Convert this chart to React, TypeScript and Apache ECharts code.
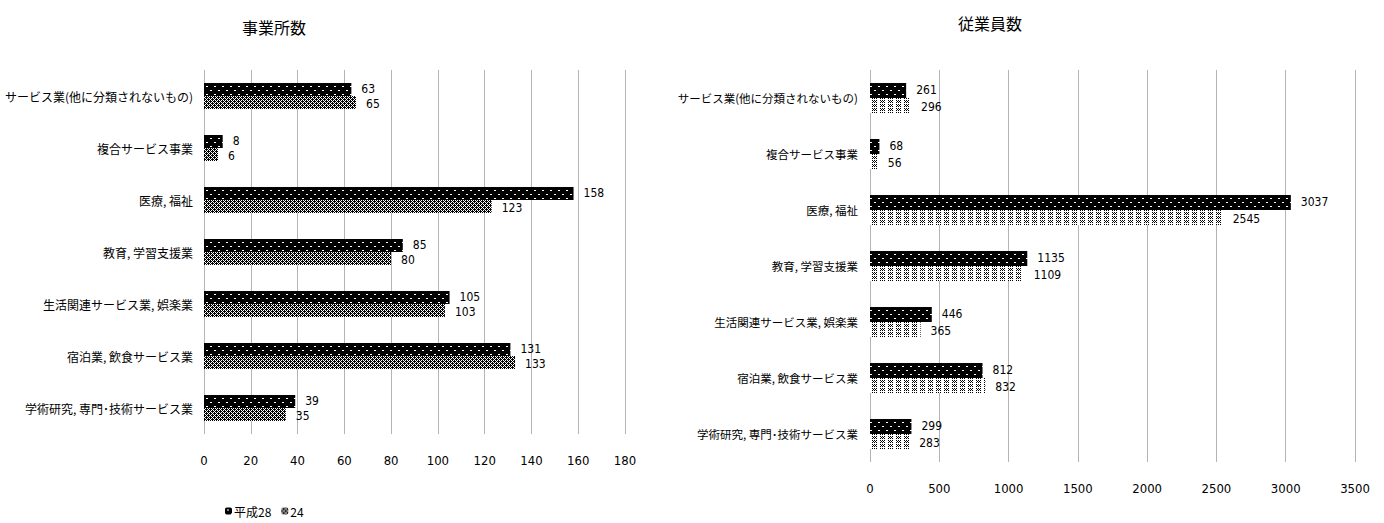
import React, { useEffect, useRef } from "react";
import * as echarts from "echarts";

// Categories, top to bottom
const categories = [
  "サービス業(他に分類されないもの)",
  "複合サービス事業",
  "医療, 福祉",
  "教育, 学習支援業",
  "生活関連サービス業, 娯楽業",
  "宿泊業, 飲食サービス業",
  "学術研究, 専門･技術サービス業",
];

const seriesNames = ["平成28", "24"];

// 事業所数
const establishmentsH28 = [63, 8, 158, 85, 105, 131, 39];
const establishmentsH24 = [65, 6, 123, 80, 103, 133, 35];

// 従業員数
const employeesH28 = [261, 68, 3037, 1135, 446, 812, 299];
const employeesH24 = [296, 56, 2545, 1109, 365, 832, 283];

const leftTicks = { min: 0, max: 180, interval: 20 };
const rightTicks = { min: 0, max: 3500, interval: 500 };

const NUM_FONT = "'DejaVu Sans Condensed', 'Liberation Sans Narrow', 'Liberation Sans', sans-serif";
const JP_FONT = "'Noto Sans CJK JP', sans-serif";

// Builds a small repeating bitmap tile from a character map ('#' = ink, '.' = paper)
function makeTile(rows: string[], ink: string, paper: string): string {
  const h = rows.length;
  const w = rows[0].length;
  const c = document.createElement("canvas");
  c.width = w;
  c.height = h;
  const ctx = c.getContext("2d")!;
  ctx.fillStyle = paper;
  ctx.fillRect(0, 0, w, h);
  ctx.fillStyle = ink;
  for (let y = 0; y < h; y++) {
    for (let x = 0; x < w; x++) {
      if (rows[y][x] === "#") ctx.fillRect(x, y, 1, 1);
    }
  }
  return c.toDataURL();
}

export default function App() {
  const ref = useRef<HTMLDivElement>(null);

  useEffect(() => {
    if (!ref.current) return;
    const chart = echarts.init(ref.current, undefined, { renderer: "svg" });

    // black with white dots
    const dotted = makeTile(
      [
        "........",
        "........",
        "..##....",
        "........",
        "........",
        "........",
        "......##",
        "........",
      ],
      "#ffffff",
      "#000000"
    );
    // dense grey checker
    const checker = makeTile(
      [
        "#.#.",
        ".###",
        "#.#.",
        "##.#",
      ],
      "#000000",
      "#ffffff"
    );
    // light stipple
    const stipple = makeTile(
      [
        "#.#.#...",
        ".#.#....",
        "#.#.#...",
        "........",
      ],
      "#000000",
      "#ffffff"
    );

    const pat = (img: string) => ({ image: img, repeat: "repeat" });
    const plain = (v: number) => String(v);

    const label = {
      show: true,
      position: "right",
      distance: 10,
      color: "#000",
      fontFamily: NUM_FONT,
      fontSize: 12,
    };

    const gridLine = { show: true, lineStyle: { color: "#b4b4b4", width: 1 } };
    const tickLabel = { margin: 20, color: "#000", fontFamily: NUM_FONT, fontSize: 13, formatter: plain };

    const option: any = {
      animation: false,
      backgroundColor: "#ffffff",
      title: [
        {
          text: "事業所数",
          left: 237,
          top: 14,
          textStyle: { fontFamily: JP_FONT, fontSize: 16, fontWeight: "normal", color: "#000" },
        },
        {
          text: "従業員数",
          left: 953,
          top: 10,
          textStyle: { fontFamily: JP_FONT, fontSize: 16, fontWeight: "normal", color: "#000" },
        },
      ],
      legend: {
        left: 220,
        top: 500,
        itemWidth: 7,
        itemHeight: 7,
        itemGap: 10,
        data: seriesNames,
        textStyle: { fontFamily: JP_FONT, fontSize: 12, color: "#000", padding: [0, 0, 0, -3] },
      },
      grid: [
        { left: 204, width: 421, top: 70, height: 364 },
        { left: 870, width: 485, top: 70, height: 392 },
      ],
      xAxis: [
        {
          gridIndex: 0,
          type: "value",
          ...leftTicks,
          axisLine: { show: false },
          axisTick: { show: false },
          splitLine: gridLine,
          axisLabel: tickLabel,
        },
        {
          gridIndex: 1,
          type: "value",
          ...rightTicks,
          axisLine: { show: false },
          axisTick: { show: false },
          splitLine: gridLine,
          axisLabel: tickLabel,
        },
      ],
      yAxis: [
        {
          gridIndex: 0,
          type: "category",
          data: categories,
          inverse: true,
          axisLine: { show: false },
          axisTick: { show: false },
          axisLabel: { margin: 11, color: "#000", fontFamily: JP_FONT, fontSize: 12 },
        },
        {
          gridIndex: 1,
          type: "category",
          data: categories,
          inverse: true,
          axisLine: { show: false },
          axisTick: { show: false },
          axisLabel: { margin: 12, color: "#000", fontFamily: JP_FONT, fontSize: 11.5 },
        },
      ],
      series: [
        {
          name: seriesNames[0],
          type: "bar",
          xAxisIndex: 0,
          yAxisIndex: 0,
          data: establishmentsH28,
          barWidth: 13,
          barGap: "0%",
          itemStyle: { color: pat(dotted) },
          label: { ...label, offset: [0, -1] },
        },
        {
          name: seriesNames[1],
          type: "bar",
          xAxisIndex: 0,
          yAxisIndex: 0,
          data: establishmentsH24,
          barWidth: 13,
          barGap: "0%",
          itemStyle: { color: pat(checker) },
          label: { ...label, offset: [0, 1] },
        },
        {
          name: seriesNames[0],
          type: "bar",
          xAxisIndex: 1,
          yAxisIndex: 1,
          data: employeesH28,
          barWidth: 15,
          barGap: "0%",
          itemStyle: { color: pat(dotted) },
          label: { ...label, offset: [0, -1] },
        },
        {
          name: seriesNames[1],
          type: "bar",
          xAxisIndex: 1,
          yAxisIndex: 1,
          data: employeesH24,
          barWidth: 15,
          barGap: "0%",
          itemStyle: { color: pat(stipple) },
          label: { ...label, offset: [0, 1] },
        },
      ],
    };

    chart.setOption(option);
    return () => chart.dispose();
  }, []);

  return (
    <div
      ref={ref}
      style={{ position: "fixed", left: 0, top: 0, width: 1384, height: 523, background: "#fff" }}
    />
  );
}
